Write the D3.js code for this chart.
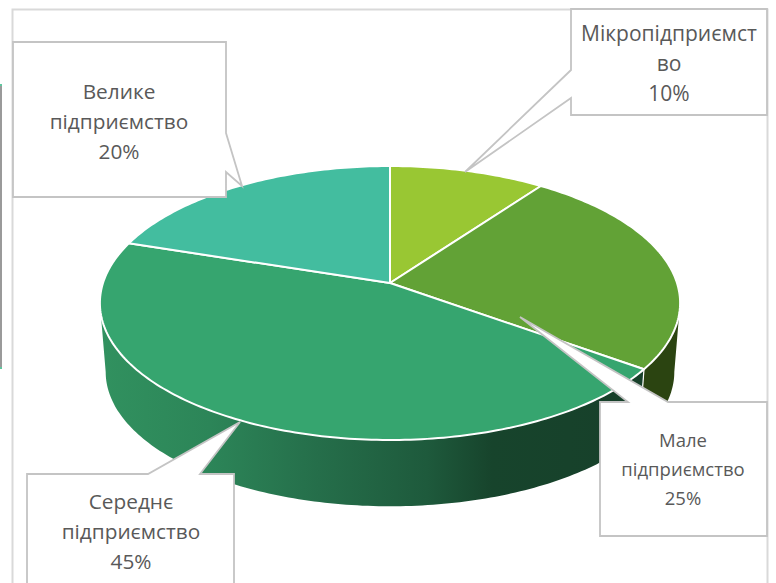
<!DOCTYPE html>
<html>
  <head>
    <title>Підприємства</title>
    <script src="https://d3js.org/d3.v7.min.js"></script>
    <style>
      html, body { margin: 0; padding: 0; background: #fff; }
      svg { display: block; }
    </style>
  </head>
  <body>
    <svg width="776" height="583"></svg>
    <script>
      const categories = ["Мікропідприємство", "Мале підприємство", "Середнє підприємство", "Велике підприємство"];
      const shares = [10, 25, 45, 20];
      const labelLines = [
        ["Мікропідприємст", "во", "10%"],
        ["Мале", "підприємство", "25%"],
        ["Середнє", "підприємство", "45%"],
        ["Велике", "підприємство", "20%"]
      ];
      const topColors = ["#99c733", "#62a236", "#36a56f", "#43bd9f"];

      const svg = d3.select("svg");
      const defs = svg.append("defs");

      // perspective of the pie: maps unit circle to the drawn ellipse
      const cx = 390, cy = 303, ax = 287, by = 137, shift = 20, persp = 0.146;
      function project(a, scale, drop) {
        const u = Math.sin(a), v = Math.cos(a);
        const w = 1 + persp * v;
        return [
          cx + scale * ax * u / w,
          cy + drop - scale * (by * v + shift) / w
        ];
      }
      function rimPoints(a0, a1, scale, drop) {
        const n = Math.max(2, Math.ceil((a1 - a0) * 60));
        return d3.range(n + 1).map(i => project(a0 + (a1 - a0) * i / n, scale, drop));
      }

      const pie = d3.pie().sort(null)(shares);
      const line = d3.line();

      // side wall, cut off where the rim has its widest point
      const wallDrop = 69, wallScale = 0.98;
      const wallGrad = defs.append("linearGradient")
        .attr("id", "wall").attr("gradientUnits", "userSpaceOnUse")
        .attr("x1", 101).attr("x2", 644).attr("y1", 0).attr("y2", 0);
      [[0, "#31915f"], [0.2, "#2c8558"], [0.4, "#256e4a"], [0.6, "#1e5a3c"], [0.72, "#17442c"], [1, "#17402a"]]
        .forEach(s => wallGrad.append("stop").attr("offset", s[0]).attr("stop-color", s[1]));

      const wallFills = [null, "#2b4411", "url(#wall)", null];
      pie.forEach((d, i) => {
        if (!wallFills[i]) return;
        const start = Math.max(d.startAngle, Math.PI / 2 + persp);
        const end = Math.min(d.endAngle, Math.PI * 1.5 - persp);
        const outer = rimPoints(start, end, 1, 0);
        const inner = rimPoints(start, end, wallScale, wallDrop).reverse();
        svg.append("path")
          .attr("d", line(outer.concat(inner)) + "Z")
          .attr("fill", wallFills[i]);
      });
      // white cut where the two walls meet
      const cut = pie[1].endAngle;
      svg.append("path")
        .attr("d", line([project(cut, 1, 0), project(cut, wallScale, wallDrop)]))
        .attr("stroke", "#fff").attr("stroke-width", 1.2);

      // top faces
      svg.selectAll(".slice").data(pie).enter().append("path")
        .attr("class", "slice")
        .attr("d", d => line([[cx, cy - shift]].concat(rimPoints(d.startAngle, d.endAngle, 1, 0))) + "Z")
        .attr("fill", (d, i) => topColors[i])
        .attr("stroke", "#fff")
        .attr("stroke-width", 2)
        .attr("stroke-linejoin", "round");

      // frame
      svg.append("path")
        .attr("d", "M12.5,590V9.5H767.5V590")
        .attr("fill", "none").attr("stroke", "#d9d9d9").attr("stroke-width", 2);

      // remains of the page on the left edge
      svg.append("rect").attr("x", 0).attr("y", 84).attr("width", 2).attr("height", 285).attr("fill", "#5fc79f");
      svg.append("rect").attr("x", 0).attr("y", 86).attr("width", 2).attr("height", 281).attr("fill", "#9a9a9a");

      // callouts
      const callouts = [
        { points: [[571,9],[571,70],[465,172],[571,98],[571,115],[767,115],[767,9]], x: 669, y: 34, size: 21, gap: 30 },
        { points: [[600,402],[628,402],[520,317],[668,402],[767,402],[767,536],[600,536]], x: 683, y: 441, size: 18.5, gap: 29 },
        { points: [[27,590],[27,474],[148,474],[240,422],[200,474],[234,474],[234,590]], x: 131, y: 502, size: 20.8, gap: 30 },
        { points: [[13,42],[226,42],[226,133],[242,186],[226,172],[226,197],[13,197]], x: 119, y: 92, size: 20.8, gap: 30 }
      ];
      callouts.forEach((c, i) => {
        svg.append("path")
          .attr("d", line(c.points) + "Z")
          .attr("fill", "#fff")
          .attr("stroke", "#c4c4c4")
          .attr("stroke-width", 1.8);
        svg.append("g").selectAll("text").data(labelLines[i]).enter().append("text")
          .attr("x", c.x)
          .attr("y", (d, j) => c.y + j * c.gap)
          .attr("dy", "0.35em")
          .attr("text-anchor", "middle")
          .attr("font-family", "'Open Sans', sans-serif")
          .attr("font-size", c.size)
          .attr("fill", "#595959")
          .text(d => d);
      });
    </script>
  </body>
</html>
